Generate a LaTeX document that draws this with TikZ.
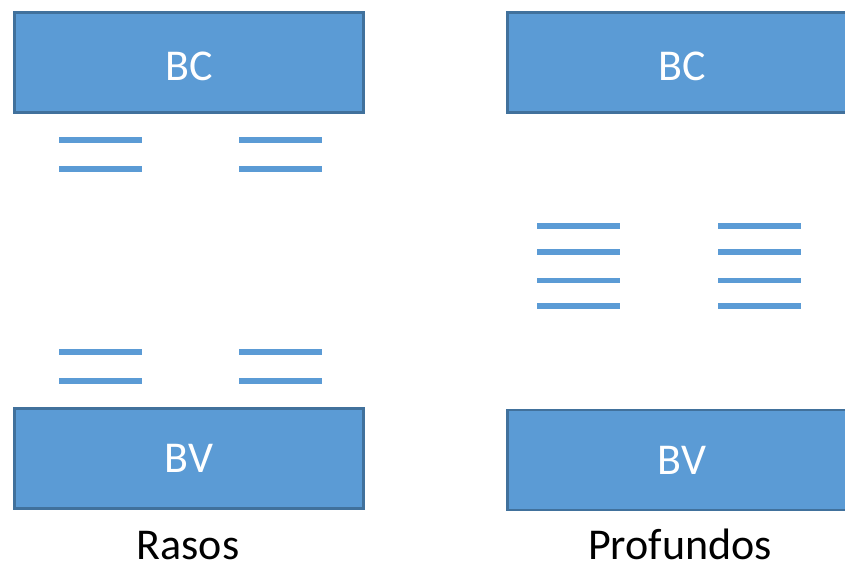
\documentclass[tikz,border=0pt]{standalone}
\usepackage{fontspec}
\setmainfont{Carlito}
\definecolor{boxfill}{HTML}{5B9BD5}
\definecolor{boxedge}{HTML}{41719C}
\begin{document}
\begin{tikzpicture}[x=1pt,y=-1pt,
  layer/.style={draw=boxedge, fill=boxfill, line width=2.6pt,
    minimum width=349pt, minimum height=100pt, inner sep=0pt,
    text=white, font=\fontsize{44}{44}\selectfont, text depth=0pt},
  stripe/.style={draw=boxfill, line width=5.5pt},
  caption/.style={font=\fontsize{44}{44}\selectfont, anchor=base,
    inner sep=0pt, text depth=0pt}]
\useasboundingbox (0,0) rectangle (845,566);
\clip (0,0) rectangle (845,566);

% shallow case
\node[layer, text height=35pt] (bcL) at (189,62.5) {BC};
\node[layer, text height=27pt] (bvL) at (189,458.5) {BV};
\foreach \y in {140,169,352,381} {
  \draw[stripe] (59,\y) -- (142,\y);
  \draw[stripe] (239,\y) -- (322,\y);
}
\node[caption] (rasos) at (188,559) {Rasos};

% deep case
\node[layer, text height=35pt] (bcR) at (682,62.5) {BC};
\node[layer, text height=29pt] (bvR) at (682,460) {BV};
\foreach \y in {226,252,280.5,306} {
  \draw[stripe] (537,\y) -- (620,\y);
  \draw[stripe] (718,\y) -- (801,\y);
}
\node[caption] (profundos) at (680,559) {Profundos};
\end{tikzpicture}
\end{document}
